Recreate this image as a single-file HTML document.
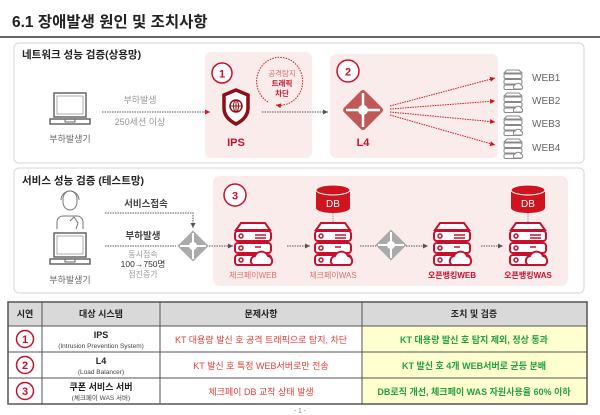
<!DOCTYPE html>
<html><head><meta charset="utf-8"><style>
html,body{margin:0;padding:0;background:#fff;width:600px;height:415px;overflow:hidden}
svg text{font-family:"Liberation Sans","Noto Sans CJK KR",sans-serif}
</style></head><body>
<svg width="600" height="415" viewBox="0 0 600 415" xmlns="http://www.w3.org/2000/svg">
<defs>
<marker id="ag" markerWidth="6" markerHeight="6" refX="5" refY="3" orient="auto"><path d="M0,0.5 L5,3 L0,5.5z" fill="#555"/></marker>
<marker id="ar" markerWidth="6" markerHeight="6" refX="5" refY="3" orient="auto"><path d="M0,0.5 L5,3 L0,5.5z" fill="#d0141e"/></marker>
<g id="srv">
 <path d="M-12,-20 L12,-20 L17,-13 L-17,-13z" fill="#fff" stroke="#c8102e" stroke-width="2"/>
 <rect x="-18" y="-12" width="36" height="10" rx="3" fill="#fff" stroke="#c8102e" stroke-width="2"/>
 <rect x="-18" y="0" width="36" height="10" rx="3" fill="#fff" stroke="#c8102e" stroke-width="2"/>
 <rect x="-18" y="12" width="36" height="10" rx="3" fill="#fff" stroke="#c8102e" stroke-width="2"/>
 <circle cx="-12" cy="-7" r="2" fill="none" stroke="#c8102e" stroke-width="1.5"/>
 <circle cx="-12" cy="5" r="2" fill="none" stroke="#c8102e" stroke-width="1.5"/>
 <circle cx="-12" cy="17" r="2" fill="none" stroke="#c8102e" stroke-width="1.5"/>
 <path d="M2,-8 H13 M2,-5 H13 M2,4 H8" stroke="#c8102e" stroke-width="1.5"/>
 <path d="M0,22 a5,5 0 0 1 2,-9 a7,7 0 0 1 13,0 a5,5 0 0 1 2,9z" fill="#fff" stroke="#c8102e" stroke-width="2"/>
</g>
<g id="ssm">
 <path d="M-6,-9 L6,-9 L9,-6 L-9,-6z" fill="#fff" stroke="#888" stroke-width="1"/>
 <rect x="-9" y="-5" width="18" height="4.5" rx="1.5" fill="#fff" stroke="#888"/>
 <rect x="-9" y="0.5" width="18" height="4.5" rx="1.5" fill="#fff" stroke="#888"/>
 <rect x="-9" y="6" width="18" height="4.5" rx="1.5" fill="#fff" stroke="#888"/>
 <path d="M1,10 a2.5,2.5 0 0 1 1,-4 a3.5,3.5 0 0 1 6,0 a2.5,2.5 0 0 1 1,4z" fill="#fff" stroke="#888"/>
</g>
<g id="db">
 <path d="M-17,-9 V9 A17,5 0 0 0 17,9 V-9z" fill="#d0141e"/>
 <ellipse cx="0" cy="-9" rx="17" ry="5" fill="#d0141e" stroke="#fff" stroke-width="1"/>
 <text x="0" y="8" font-size="10" fill="#fff" text-anchor="middle">DB</text>
</g>
<g id="dia">
 <rect x="-11" y="-11" width="22" height="22" transform="rotate(45)" fill="#aaa"/>
 <circle r="4" fill="#fff"/>
 <path d="M0,-13 V13 M-13,0 H13" stroke="#fff" stroke-width="2"/>
</g>
<g id="laptop">
 <rect x="-16" y="-17" width="32" height="24" fill="#fff" stroke="#666" stroke-width="1.5"/>
 <rect x="-13" y="-14" width="26" height="18" fill="none" stroke="#999" stroke-width="0.8"/>
 <path d="M-20,9 H20 V14 H-20z" fill="#fff" stroke="#666" stroke-width="1.5"/>
 <path d="M-5,9 V12 H5 V9" fill="none" stroke="#666"/>
</g>
</defs>

<text x="12" y="27" font-size="15.5" font-weight="bold" fill="#222">6.1 장애발생 원인 및 조치사항</text>
<rect x="0" y="36" width="600" height="2" fill="#666"/>

<!-- panel 1 -->
<rect x="14" y="43" width="570" height="120" rx="5" fill="#fff" stroke="#ddd" stroke-width="1.2"/>
<text x="22" y="58" font-size="10.5" font-weight="bold" fill="#222">네트워크 성능 검증(상용망)</text>
<rect x="205" y="52" width="107" height="106" rx="6" fill="#fbecec"/>
<rect x="330" y="54" width="168" height="104" rx="6" fill="#fbecec"/>
<use href="#laptop" x="70" y="110"/>
<text x="70" y="142" font-size="9" fill="#666" text-anchor="middle">부하발생기</text>
<text x="140" y="103" font-size="9" fill="#999" text-anchor="middle">부하발생</text>
<text x="140" y="125" font-size="9" fill="#999" text-anchor="middle">250세션 이상</text>
<line x1="102" y1="112" x2="210" y2="112" stroke="#555" stroke-dasharray="1.5,1" marker-end="url(#ar)"/>
<circle cx="222" cy="73" r="10" fill="#fff" stroke="#c8102e" stroke-width="1.5"/>
<text x="222" y="77.5" font-size="11" font-weight="bold" fill="#c8102e" text-anchor="middle">1</text>
<path d="M224,95 L236,90 L248,95 V108 Q248,118 236,124 Q224,118 224,108z" fill="#fff" stroke="#8e0f18" stroke-width="3.5"/>
<circle cx="236" cy="106" r="6" fill="none" stroke="#8e0f18" stroke-width="1.5"/>
<path d="M230,106 H242 M236,100 V112" stroke="#8e0f18" stroke-width="1"/>
<ellipse cx="236" cy="106" rx="2.5" ry="6" fill="none" stroke="#8e0f18" stroke-width="1"/>
<text x="236" y="146" font-size="11" font-weight="bold" fill="#c8102e" text-anchor="middle">IPS</text>
<path d="M268,102 A23,24 0 1 1 276,105" fill="none" stroke="#d0141e" stroke-dasharray="1.5,1.2" marker-end="url(#ar)"/>
<text x="282" y="76" font-size="7.5" fill="#e07070" text-anchor="middle">공격탐지</text>
<text x="282" y="86" font-size="7.5" font-weight="bold" fill="#c8102e" text-anchor="middle">트래픽</text>
<text x="282" y="96" font-size="7.5" font-weight="bold" fill="#c8102e" text-anchor="middle">차단</text>
<line x1="262" y1="112" x2="328" y2="112" stroke="#555" stroke-dasharray="1.5,1" marker-end="url(#ag)"/>
<circle cx="348" cy="71" r="11" fill="#fff" stroke="#c8102e" stroke-width="1.5"/>
<text x="348" y="75.5" font-size="11" font-weight="bold" fill="#c8102e" text-anchor="middle">2</text>
<rect x="-15" y="-15" width="30" height="30" rx="3" transform="translate(363,110) rotate(45)" fill="#c05858"/>
<circle cx="363" cy="110" r="5" fill="#fff"/>
<path d="M363,93 V127 M346,110 H380" stroke="#fff" stroke-width="2.5"/>
<text x="363" y="146" font-size="11" font-weight="bold" fill="#c8102e" text-anchor="middle">L4</text>
<g stroke="#d0141e" stroke-dasharray="1.5,1" marker-end="url(#ar)" fill="none">
<line x1="390" y1="106" x2="495" y2="78"/>
<line x1="390" y1="109" x2="495" y2="101"/>
<line x1="390" y1="112" x2="495" y2="122"/>
<line x1="390" y1="115" x2="495" y2="145"/>
</g>
<use href="#ssm" x="513" y="79"/><use href="#ssm" x="513" y="102"/><use href="#ssm" x="513" y="125"/><use href="#ssm" x="513" y="148"/>
<g font-size="10" fill="#666"><text x="532" y="81">WEB1</text><text x="532" y="104">WEB2</text><text x="532" y="127">WEB3</text><text x="532" y="151">WEB4</text></g>

<!-- panel 2 -->
<rect x="14" y="168" width="570" height="125" rx="5" fill="#fff" stroke="#ddd" stroke-width="1.2"/>
<text x="22" y="184" font-size="10.5" font-weight="bold" fill="#222">서비스 성능 검증 (테스트망)</text>
<rect x="213" y="176" width="355" height="110" rx="7" fill="#fbecec"/>
<g fill="none" stroke="#777" stroke-width="1">
<path d="M63,199 a7,8 0 0 1 14,0 v3 a7,8 0 0 1 -14,0z"/>
<path d="M61,200 a9,9 0 0 1 18,0"/>
<path d="M57,229 v-7 a6,6 0 0 1 6,-6 h14 a6,6 0 0 1 6,6 v7"/>
<path d="M70,221 l4,-4 l4,6 l-2,6"/>
</g>
<use href="#laptop" x="70" y="250"/>
<text x="70" y="283" font-size="9" fill="#666" text-anchor="middle">부하발생기</text>
<text x="146" y="207" font-size="9.5" font-weight="bold" fill="#444" text-anchor="middle">서비스접속</text>
<path d="M105,213 H193 V228" fill="none" stroke="#555" stroke-dasharray="1.5,1" marker-end="url(#ag)"/>
<text x="143" y="239" font-size="9.5" font-weight="bold" fill="#444" text-anchor="middle">부하발생</text>
<line x1="105" y1="246" x2="176" y2="246" stroke="#555" stroke-dasharray="1.5,1"/>
<text x="143" y="257" font-size="8" fill="#999" text-anchor="middle">동시접속</text>
<text x="143" y="267" font-size="8.5" fill="#333" text-anchor="middle">100→750명</text>
<text x="143" y="277" font-size="8" fill="#999" text-anchor="middle">점진증가</text>
<use href="#dia" x="193" y="246"/>
<line x1="209" y1="246" x2="233" y2="246" stroke="#555" stroke-dasharray="1.5,1" marker-end="url(#ag)"/>
<circle cx="235" cy="195" r="11" fill="#fff" stroke="#c8102e" stroke-width="1.5"/>
<text x="235" y="199.5" font-size="11" font-weight="bold" fill="#c8102e" text-anchor="middle">3</text>
<use href="#srv" x="253" y="243"/>
<text x="253" y="278" font-size="8" fill="#e07070" text-anchor="middle">체크페이WEB</text>
<line x1="287" y1="246" x2="310" y2="246" stroke="#555" stroke-dasharray="1.5,1" marker-end="url(#ag)"/>
<use href="#db" x="333" y="199"/>
<line x1="333" y1="213" x2="333" y2="222" stroke="#999" stroke-dasharray="1.5,1"/>
<use href="#srv" x="333" y="243"/>
<text x="333" y="278" font-size="8" fill="#e07070" text-anchor="middle">체크페이WAS</text>
<line x1="360" y1="246" x2="376" y2="246" stroke="#555" stroke-dasharray="1.5,1"/>
<use href="#dia" x="391" y="245"/>
<line x1="406" y1="246" x2="428" y2="246" stroke="#555" stroke-dasharray="1.5,1" marker-end="url(#ag)"/>
<use href="#srv" x="452" y="243"/>
<text x="452" y="278" font-size="8" font-weight="bold" fill="#c8102e" text-anchor="middle">오픈뱅킹WEB</text>
<line x1="481" y1="246" x2="503" y2="246" stroke="#555" stroke-dasharray="1.5,1" marker-end="url(#ag)"/>
<use href="#db" x="528" y="199"/>
<line x1="528" y1="213" x2="528" y2="222" stroke="#999" stroke-dasharray="1.5,1"/>
<use href="#srv" x="528" y="243"/>
<text x="528" y="278" font-size="8" font-weight="bold" fill="#c8102e" text-anchor="middle">오픈뱅킹WAS</text>

<!-- table -->
<rect x="8" y="302" width="579" height="24" fill="#d9d9d9"/>
<rect x="362" y="326" width="225" height="78" fill="#ffffd0"/>
<g stroke="#555" stroke-width="1" fill="none">
<rect x="8" y="302" width="579" height="102" stroke-width="1.5"/>
<line x1="8" y1="326" x2="587" y2="326"/><line x1="8" y1="352" x2="587" y2="352"/><line x1="8" y1="378" x2="587" y2="378"/>
<line x1="42" y1="302" x2="42" y2="404"/><line x1="160" y1="302" x2="160" y2="404"/><line x1="362" y1="302" x2="362" y2="404"/>
</g>
<g font-size="9" font-weight="bold" fill="#222" text-anchor="middle">
<text x="25" y="317">시연</text><text x="101" y="317">대상 시스템</text><text x="261" y="317">문제사항</text><text x="474" y="317">조치 및 검증</text>
</g>
<g fill="#fff" stroke="#c8102e" stroke-width="1.5"><circle cx="25" cy="339" r="8.5"/><circle cx="25" cy="365" r="8.5"/><circle cx="25" cy="391" r="8.5"/></g>
<g font-size="11" font-weight="bold" fill="#c8102e" text-anchor="middle"><text x="25" y="343">1</text><text x="25" y="369">2</text><text x="25" y="395">3</text></g>
<g text-anchor="middle">
<text x="101" y="338" font-size="9" font-weight="bold" fill="#222">IPS</text>
<text x="101" y="348" font-size="6.5" fill="#444">(Intrusion Prevention System)</text>
<text x="101" y="364" font-size="9" font-weight="bold" fill="#222">L4</text>
<text x="101" y="374" font-size="6.5" fill="#444">(Load Balancer)</text>
<text x="101" y="390" font-size="9" font-weight="bold" fill="#222">쿠폰 서비스 서버</text>
<text x="101" y="400" font-size="6.5" fill="#444">(체크페이 WAS 서버)</text>
<g font-size="9" fill="#e0403a">
<text x="261" y="343">KT 대용량 발신 호 공격 트래픽으로 탐지, 차단</text>
<text x="261" y="369">KT 발신 호 특정 WEB서버로만 전송</text>
<text x="261" y="395">체크페이 DB 교착 상태 발생</text>
</g>
<g font-size="9" font-weight="bold" fill="#22a040">
<text x="474" y="343">KT 대용량 발신 호 탐지 제외, 정상 통과</text>
<text x="474" y="369">KT 발신 호 4개 WEB서버로 균등 분배</text>
<text x="474" y="395">DB로직 개선, 체크페이 WAS 자원사용율 60% 이하</text>
</g>
<text x="300" y="413" font-size="7" fill="#888">- 1 -</text>
</g>
</svg>
</body></html>
